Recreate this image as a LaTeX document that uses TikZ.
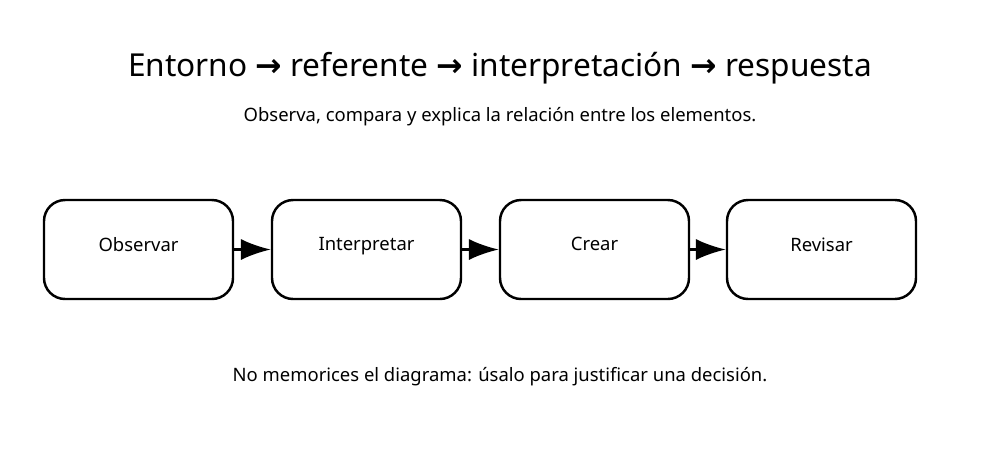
\documentclass[tikz,border=0pt]{standalone}
\usepackage{fontspec}
\setmainfont{Noto Sans}
\newfontfamily\arrowfont{DejaVu Sans}
\usetikzlibrary{positioning,arrows.meta}
\begin{document}
\begin{tikzpicture}[x=0.02cm,y=-0.02cm,
    stage/.style={draw, line width=1.4pt, rounded corners=12pt, minimum width=189*0.02cm, minimum height=99*0.02cm, font=\fontsize{10.5}{12}\selectfont, text depth=0pt},
    link/.style={line width=1.4pt, -{Latex[length=17pt,width=12pt]}}]
    \useasboundingbox (0,0) rectangle (1000,467);
    % Titles
    \node (title) at (500,68) {\fontsize{18}{21}\selectfont\bfseries Entorno {\arrowfont→} referente {\arrowfont→} interpretación {\arrowfont→} respuesta};
    \node (sub) at (500,117) {\fontsize{10.5}{12}\selectfont Observa, compara y explica la relación entre los elementos.};
    % Stages
    \node[stage] (obs) at (138.5,249.5) {\raisebox{6pt}{Observar}};
    \node[stage] (int) at (366.5,249.5) {\raisebox{6pt}{Interpretar}};
    \node[stage] (cre) at (594.5,249.5) {\raisebox{6pt}{Crear}};
    \node[stage] (rev) at (821.5,249.5) {\raisebox{6pt}{Revisar}};
    \draw[link] (obs) -- (int);
    \draw[link] (int) -- (cre);
    \draw[link] (cre) -- (rev);
    % Footer
    \node (note) at (500,377) {\fontsize{10.5}{12}\selectfont No memorices el diagrama: úsalo para justificar una decisión.};
\end{tikzpicture}
\end{document}
